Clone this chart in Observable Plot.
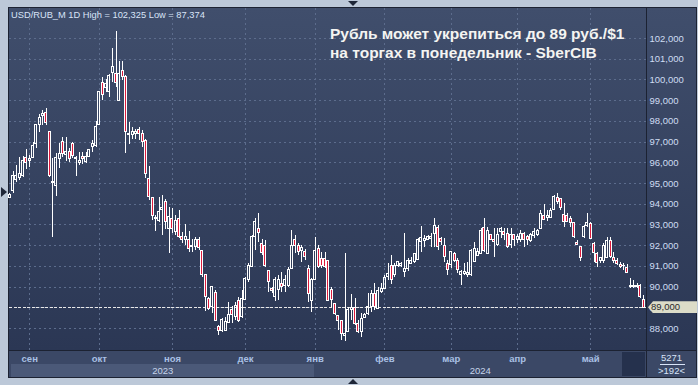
<!DOCTYPE html>
<html><head><meta charset="utf-8">
<script src="https://cdn.jsdelivr.net/npm/d3@7"></script>
<script src="https://cdn.jsdelivr.net/npm/@observablehq/plot@0.6"></script>
<style>
html,body{margin:0;padding:0;background:#bcc8d8;}
#wrap{position:relative;width:698px;height:385px;overflow:hidden;background:#bcc8d8;font-family:"Liberation Sans",Arial,sans-serif;}
.abs{position:absolute;}
#chart svg{position:absolute;left:0;top:0;}
</style></head><body>
<div id="wrap">
  <div class="abs" style="left:8px;top:7px;width:689px;height:371px;background:#1c2232"></div>
  <div class="abs" style="left:9px;top:8px;width:637px;height:342px;background:linear-gradient(#404e6c,#2b3754)"></div>
  <div class="abs" style="left:647px;top:8px;width:49px;height:342px;background:linear-gradient(#404e6c,#2b3754)"></div>
  <div class="abs" style="left:9px;top:351px;width:637px;height:26px;background:#3b4866"></div>
  <div class="abs" style="left:11px;top:364px;width:303px;height:13px;background:#4b5978"></div>
  <div class="abs" style="left:622px;top:352px;width:23px;height:24px;background:#25314d"></div>
  <div class="abs" style="left:647px;top:351px;width:49px;height:26px;background:#3b4866"></div>
  <div class="abs" style="left:1px;top:187px;width:0;height:0;border-left:6px solid #1e2638;border-top:5px solid transparent;border-bottom:5px solid transparent"></div>
  <div class="abs" style="left:348px;top:1px;width:0;height:0;border-top:5px solid #1e2638;border-left:5px solid transparent;border-right:5px solid transparent"></div>
  <div class="abs" style="left:348px;top:379px;width:0;height:0;border-bottom:5px solid #1e2638;border-left:5px solid transparent;border-right:5px solid transparent"></div>
  <div id="chart"></div>
  <div id="overlay"></div>
</div>
<script>
// Daily OHLC, USD/RUB_M, 192 bars
const open = [
94.30,94.66,95.19,95.25,95.38,96.24,96.11,96.22,96.91,97.80,98.28,98.41,97.48,95.03,94.90,96.19,96.99,96.38,96.51,96.92,
96.17,96.00,96.27,96.05,96.30,96.75,96.80,97.83,99.86,99.62,99.40,100.34,100.29,99.00,100.45,100.13,97.35,97.35,97.38,
97.56,97.41,97.04,95.20,94.31,93.27,93.21,93.73,94.10,92.81,93.30,92.65,93.29,92.44,92.28,92.28,91.92,91.92,92.25,91.73,
90.56,89.43,89.03,89.71,88.06,87.87,87.90,88.25,88.90,88.54,89.35,88.54,89.38,90.32,90.96,92.41,92.81,
92.09,92.00,90.76,89.91,89.51,89.87,90.16,90.07,90.07,90.88,92.25,92.00,91.75,91.68,90.88,89.35,90.32,91.85,91.36,91.36,
91.28,89.87,89.19,88.58,88.38,87.63,87.82,88.87,89.00,88.22,87.82,88.51,88.71,89.03,89.67,88.95,89.75,89.91,
90.48,91.04,90.56,91.04,91.04,90.75,90.88,91.12,91.23,91.33,92.16,92.20,92.29,92.33,92.57,92.86,92.33,92.00,91.12,91.07,
91.60,91.28,90.56,90.64,90.56,90.56,91.23,91.52,91.60,92.86,91.60,92.49,92.29,92.04,92.65,92.65,92.57,
92.04,92.49,92.29,92.25,92.57,92.41,92.20,92.45,92.49,92.81,93.45,93.32,93.32,93.74,94.29,94.23,93.49,93.45,93.29,93.10,
92.13,91.92,92.41,92.97,93.05,92.09,91.60,91.28,91.28,91.39,92.20,91.39,91.28,91.07,91.00,90.90,90.02,90.02,90.07,90.04,89.40];
const high = [
94.50,95.59,95.87,96.27,96.30,96.64,96.35,97.00,97.83,98.32,98.52,98.60,97.50,96.19,96.43,96.92,97.23,97.20,96.70,97.00,
96.30,96.51,96.51,96.51,96.62,97.08,97.99,99.44,100.13,100.00,100.25,101.50,102.325,100.89,100.90,100.20,97.96,97.72,97.60,
97.69,97.56,97.10,95.82,94.31,93.45,94.34,94.42,94.25,93.83,93.78,93.45,93.69,92.65,93.00,92.70,92.28,92.41,92.41,91.73,
90.56,89.51,89.99,89.83,88.14,88.47,88.54,89.27,89.06,89.27,89.51,89.83,90.48,91.16,92.49,93.30,93.54,
92.28,92.25,90.80,89.96,90.48,90.56,90.72,90.56,90.93,92.73,92.49,92.09,92.00,91.80,91.04,90.40,92.41,92.00,91.68,91.68,
91.28,89.96,89.22,88.62,88.41,91.60,89.03,89.65,89.43,88.38,88.71,88.71,89.67,89.83,90.19,89.96,90.15,90.56,
91.12,91.52,91.12,91.23,91.20,92.57,91.36,91.44,91.60,92.33,92.94,92.49,92.49,92.57,93.30,92.97,92.41,92.33,91.28,91.73,
91.68,91.36,90.80,91.12,91.20,91.80,92.16,91.85,92.81,93.30,92.89,92.52,92.81,92.81,92.89,92.81,92.81,
92.81,92.52,92.52,92.73,92.65,92.49,92.57,92.81,92.78,93.69,93.97,93.69,93.78,94.42,94.50,94.25,94.02,93.54,93.42,93.13,
92.25,91.96,92.97,93.54,93.10,92.13,91.68,91.44,92.09,92.41,92.41,91.68,91.36,91.20,91.12,91.07,90.43,90.31,90.15,90.11,89.59];
const low = [
94.27,94.50,95.06,95.14,95.30,95.67,95.79,96.19,96.70,97.45,97.80,97.80,95.30,92.41,94.39,95.72,96.27,96.05,96.03,96.19,
95.35,95.86,95.90,95.98,96.27,96.51,96.75,97.80,99.00,99.40,99.17,99.86,99.65,98.98,99.95,96.43,96.90,97.10,97.10,
97.07,96.75,95.23,94.18,93.21,92.70,93.13,92.49,92.80,91.60,92.57,92.49,92.33,92.09,92.00,91.68,91.68,91.76,91.76,90.48,
88.83,88.87,88.71,88.38,87.66,87.83,87.87,88.25,88.22,88.38,88.30,88.47,89.35,90.24,90.96,91.76,92.16,
91.52,90.96,89.75,89.67,89.32,89.35,89.75,89.75,89.99,90.88,91.60,91.52,91.20,91.28,89.27,88.78,90.32,90.88,90.88,90.88,
89.35,89.03,88.62,87.90,87.42,87.374,87.82,88.38,88.14,87.74,87.58,88.47,88.62,88.78,88.87,88.95,89.67,89.91,
90.32,90.11,90.48,90.96,90.96,90.48,90.75,91.07,91.15,91.28,91.68,91.92,92.25,91.92,91.92,91.76,92.00,91.20,90.56,90.88,
91.20,90.64,90.07,90.56,90.48,90.52,91.20,91.48,91.56,91.68,91.60,92.25,91.44,91.96,92.33,92.25,91.85,
91.85,91.96,92.08,92.16,91.92,92.00,92.16,92.36,92.45,92.78,93.21,93.18,93.29,93.69,94.00,93.69,92.89,93.10,92.89,92.33,
92.00,91.23,92.33,92.89,92.29,91.20,90.93,91.12,91.12,91.36,91.36,91.12,91.04,90.88,90.80,90.64,89.94,89.94,89.94,89.43,88.95];
const close = [
94.45,95.38,95.35,95.47,96.11,96.00,96.19,96.80,97.80,98.15,98.36,97.93,95.38,95.07,96.22,96.43,96.43,96.54,96.19,96.32,
96.22,96.11,96.16,96.30,96.62,96.92,97.72,99.41,99.28,99.81,100.21,100.61,99.86,100.30,100.13,97.51,97.40,97.47,97.50,
97.41,97.00,95.47,94.34,93.45,93.34,93.61,93.83,93.13,93.37,92.81,93.21,92.41,92.28,92.44,91.85,92.00,92.25,91.88,90.56,
89.51,88.95,89.99,88.38,87.87,88.42,88.30,88.66,88.63,89.10,88.38,89.43,90.40,91.04,92.44,93.13,92.60,
91.63,91.04,90.23,89.80,90.32,90.35,90.00,90.35,90.80,92.00,92.00,91.68,91.90,91.44,89.67,90.32,91.76,90.96,91.04,90.96,
89.35,89.38,88.71,88.38,87.74,87.74,88.87,89.00,88.22,87.82,88.47,88.67,89.03,89.67,89.03,89.83,89.91,90.44,
90.64,90.32,91.04,91.20,91.10,90.85,91.28,91.28,91.60,92.29,92.36,92.33,92.41,92.44,92.97,91.92,92.16,91.44,90.80,91.68,
91.28,90.80,90.75,90.75,90.70,91.76,91.85,91.68,92.73,91.76,92.73,92.29,92.16,92.49,92.81,92.49,91.92,
92.52,92.25,92.41,92.57,92.25,92.29,92.49,92.68,92.73,93.54,93.26,93.45,93.65,94.34,94.13,93.81,93.16,93.16,93.10,92.41,
92.04,91.39,92.89,93.10,92.33,91.65,91.17,91.39,92.00,92.20,91.44,91.28,91.12,90.96,91.04,90.68,90.07,90.07,90.02,89.51,89.00];

const monthIdx = [6, 27, 49, 71, 92, 113, 133, 153, 175];
const monthLabels = ["сен","окт","ноя","дек","янв","фев","мар","апр","май"];
const yTicks = [88,89,90,91,92,93,94,95,96,97,98,99,100,101,102];
const yearLabels = ["2023","2024"];
const barsCount = ["5271", ">192<"];
const headerText = "USD/RUB_M 1D High = 102,325 Low = 87,374";
const titleLines = ["Рубль может укрепиться до 89 руб./$1", "на торгах в понедельник - SberCIB"];

const bars = open.map((o, i) => ({i, o, h: high[i], l: low[i], c: close[i], up: close[i] >= o}));
const last = close[close.length - 1];
const fmt = d => d.toFixed(3).replace(".", ",");
const gridColor = "#5c6c8c";

const plot = Plot.plot({
  width: 698, height: 385,
  marginLeft: 9, marginRight: 52, marginTop: 8, marginBottom: 35,
  style: {background: "transparent", color: "#cfdcf2", fontSize: "9.5px", fontFamily: "'Liberation Sans', Arial, sans-serif", overflow: "visible"},
  x: {domain: [-0.09, 191.81], ticks: monthIdx, tickFormat: d => monthLabels[monthIdx.indexOf(d)], tickSize: 0, tickPadding: 5, label: null},
  y: {domain: [86.938, 103.448], axis: "right", ticks: yTicks, tickFormat: fmt, tickSize: 0, tickPadding: 3, label: null},
  marks: [
    Plot.ruleY(yTicks, {stroke: gridColor, strokeDasharray: "2,3", shapeRendering: "crispEdges"}),
    Plot.ruleX(monthIdx, {stroke: gridColor, strokeDasharray: "2,3", shapeRendering: "crispEdges"}),
    Plot.ruleY([last], {stroke: "#e8e8e8", strokeDasharray: "3,1.5", shapeRendering: "crispEdges"}),
    Plot.ruleX(bars, {x: "i", y1: d => Math.max(d.o, d.c), y2: "h", stroke: "white", shapeRendering: "crispEdges"}),
    Plot.ruleX(bars, {x: "i", y1: "l", y2: d => Math.min(d.o, d.c), stroke: "white", shapeRendering: "crispEdges"}),
    Plot.rect(bars.filter(d => d.up), {x1: d => d.i - 0.3, x2: d => d.i + 0.3, y1: "o", y2: "c", fill: "none", stroke: "white", shapeRendering: "crispEdges"}),
    Plot.rect(bars.filter(d => !d.up), {x1: d => d.i - 0.3, x2: d => d.i + 0.3, y1: "o", y2: "c", fill: "#dc1a3c", stroke: "white", shapeRendering: "crispEdges"})
  ]
});
document.getElementById("chart").appendChild(plot);
d3.select(plot).selectAll('[aria-label^="x-axis"] text').attr("font-weight", "bold").attr("fill", "#a9c0e4");

const ov = document.getElementById("overlay");
const yPx = plot.scale("y").apply(last);
const xs = plot.scale("x");
function add(html, css) { const d = document.createElement("div"); d.className = "abs"; d.style.cssText = css; d.innerHTML = html; ov.appendChild(d); return d; }
add(headerText, "left:11px;top:9px;font-size:9.3px;line-height:12px;color:#d8e4f8;white-space:nowrap");
add(titleLines.join("<br>"), "left:330px;top:24px;font-size:15.5px;line-height:19px;font-weight:bold;color:#f4f4f2;white-space:nowrap");
add("", `left:648px;top:${yPx - 6}px;width:49px;height:12px;background:#dcdcc8;clip-path:polygon(0 50%,5px 0,100% 0,100% 100%,5px 100%)`);
add(fmt(last), `left:651px;top:${yPx - 6}px;font-size:9.5px;line-height:12px;color:#2a2a2a`);
const janPx = xs.apply(monthIdx[4]);
add(yearLabels[0], `left:11px;width:${janPx - 11}px;top:364px;text-align:center;font-size:9.5px;line-height:13px;color:#c6d4ea`);
add(yearLabels[1], `left:${janPx}px;width:${646 - janPx}px;top:364px;text-align:center;font-size:9.5px;line-height:13px;color:#c6d4ea`);
add(barsCount[0], "left:647px;width:49px;top:351px;text-align:center;font-size:9.5px;line-height:13px;color:#d8e4f8");
add("", "left:660px;width:25px;top:364px;height:1px;background:#d8e4f8");
add(barsCount[1], "left:647px;width:49px;top:365px;text-align:center;font-size:9.5px;line-height:12px;color:#d8e4f8");
</script>
</body></html>
